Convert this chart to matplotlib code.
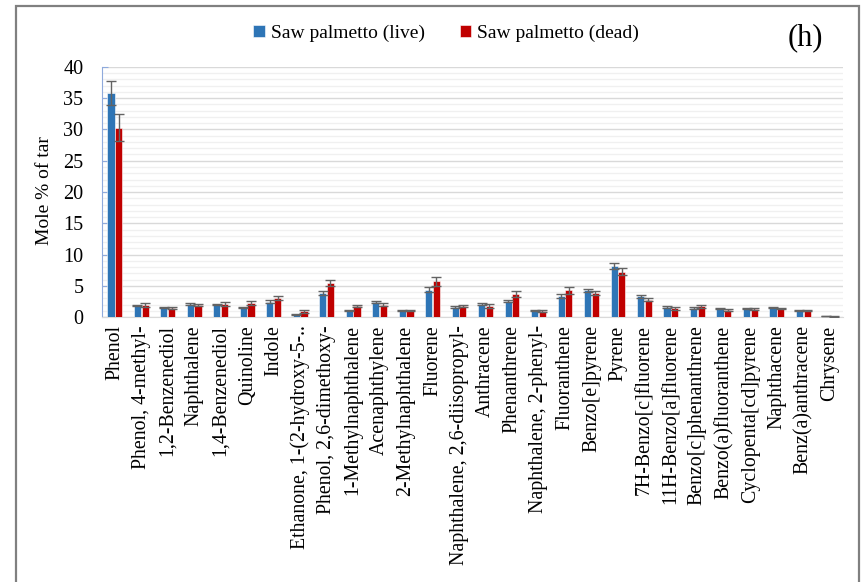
import numpy as np
import matplotlib.pyplot as plt
from matplotlib.patches import Rectangle
from matplotlib.ticker import MultipleLocator

plt.rcParams['font.family'] = ['Liberation Serif', 'DejaVu Serif']

# Compounds in the tar
compounds = ['Phenol', 'Phenol, 4-methyl-', '1,2-Benzenediol', 'Naphthalene',
             '1,4-Benzenediol', 'Quinoline', 'Indole',
             'Ethanone, 1-(2-hydroxy-5-..', 'Phenol, 2,6-dimethoxy-',
             '1-Methylnaphthalene', 'Acenaphthylene', '2-Methylnaphthalene',
             'Fluorene', 'Naphthalene, 2,6-diisopropyl-', 'Anthracene',
             'Phenanthrene', 'Naphthalene, 2-phenyl-', 'Fluoranthene',
             'Benzo[e]pyrene', 'Pyrene', '7H-Benzo[c]fluorene',
             '11H-Benzo[a]fluorene', 'Benzo[c]phenanthrene',
             'Benzo(a)fluoranthene', 'Cyclopenta[cd]pyrene', 'Naphthacene',
             'Benz(a)anthracene', 'Chrysene']

# Mole % of tar, live plants
live = [35.8, 1.8, 1.5, 2.1, 2.0, 1.5, 2.45, 0.4, 3.8,
        1.1, 2.45, 1.1, 4.4, 1.55, 2.1, 2.55, 1.1, 3.35,
        4.25, 8.15, 3.3, 1.6, 1.45, 1.35, 1.35, 1.5, 1.1, 0.15]
live_err = [1.9, 0.1, 0.1, 0.15, 0.1, 0.1, 0.2, 0.1, 0.3,
            0.1, 0.15, 0.1, 0.4, 0.15, 0.15, 0.15, 0.1, 0.3,
            0.2, 0.5, 0.3, 0.1, 0.1, 0.1, 0.1, 0.1, 0.1, 0.05]

# Mole % of tar, dead plants
dead = [30.3, 1.9, 1.5, 1.9, 2.1, 2.3, 3.0, 0.9, 5.4,
        1.75, 2.0, 1.1, 5.7, 1.75, 1.75, 3.7, 0.95, 4.25,
        3.8, 7.25, 2.8, 1.4, 1.7, 1.1, 1.3, 1.35, 1.0, 0.1]
dead_err = [2.1, 0.3, 0.15, 0.2, 0.3, 0.3, 0.3, 0.2, 0.5,
            0.1, 0.2, 0.1, 0.7, 0.15, 0.3, 0.5, 0.2, 0.5,
            0.3, 0.6, 0.3, 0.2, 0.3, 0.2, 0.2, 0.1, 0.1, 0.05]

fig = plt.figure(figsize=(8.62, 5.82), dpi=100)
ax = fig.add_axes([0.1178, 0.4553, 0.8602, 0.4296])

x = np.arange(len(compounds))
w = 0.27
err_kw = dict(ecolor='#636363', elinewidth=1.0, capsize=3.5, capthick=1.0)
ax.bar(x - 0.145, live, w, yerr=live_err, color='#2e75b6',
       edgecolor='white', linewidth=0.4, error_kw=err_kw,
       label='Saw palmetto (live)', zorder=3)
ax.bar(x + 0.145, dead, w, yerr=dead_err, color='#c00000',
       edgecolor='white', linewidth=0.4, error_kw=err_kw,
       label='Saw palmetto (dead)', zorder=3)

# Axes limits and ticks
ax.set_xlim(-0.5, len(compounds) - 0.5)
ax.set_ylim(0, 40)
ax.yaxis.set_major_locator(MultipleLocator(5))
ax.yaxis.set_minor_locator(MultipleLocator(1))
ax.set_xticks(x)
ax.set_xticklabels(compounds, rotation=90, fontsize=14.3)
ax.tick_params(axis='x', length=0, pad=6)
ax.tick_params(axis='y', which='major', direction='in', length=4,
               color='#8faadc', labelsize=14.5, pad=13)
ax.tick_params(axis='y', which='minor', length=0)

# Grid lines
ax.grid(axis='y', which='major', color='#d9d9d9', linewidth=1.0, zorder=0)
ax.grid(axis='y', which='minor', color='#f0f0f0', linewidth=1.0, zorder=0)
ax.set_axisbelow(True)

for side in ['top', 'right']:
    ax.spines[side].set_visible(False)
ax.spines['left'].set_color('#8faadc')
ax.spines['bottom'].set_color('#d9d9d9')

fig.text(45 / 862, 1 - 191 / 582, 'Mole % of tar', rotation=90,
         ha='center', va='center', fontsize=14)

# Legend and panel letter
fig.legend(loc='center', bbox_to_anchor=(446 / 862, 1 - 33 / 582), ncol=2,
           frameon=False, fontsize=14, handlelength=0.6, handleheight=0.6,
           handletextpad=0.3, columnspacing=1.8)
fig.text(805 / 862, 1 - 38 / 582, '(h)', ha='center', va='center', fontsize=22)

# Outer frame
fig.patches.append(Rectangle((16 / 862, -0.05), 843 / 862, 1.05 - 6 / 582,
                             transform=fig.transFigure, fill=False,
                             edgecolor='#808080', linewidth=1.6))

plt.savefig('out.png', dpi=100)
